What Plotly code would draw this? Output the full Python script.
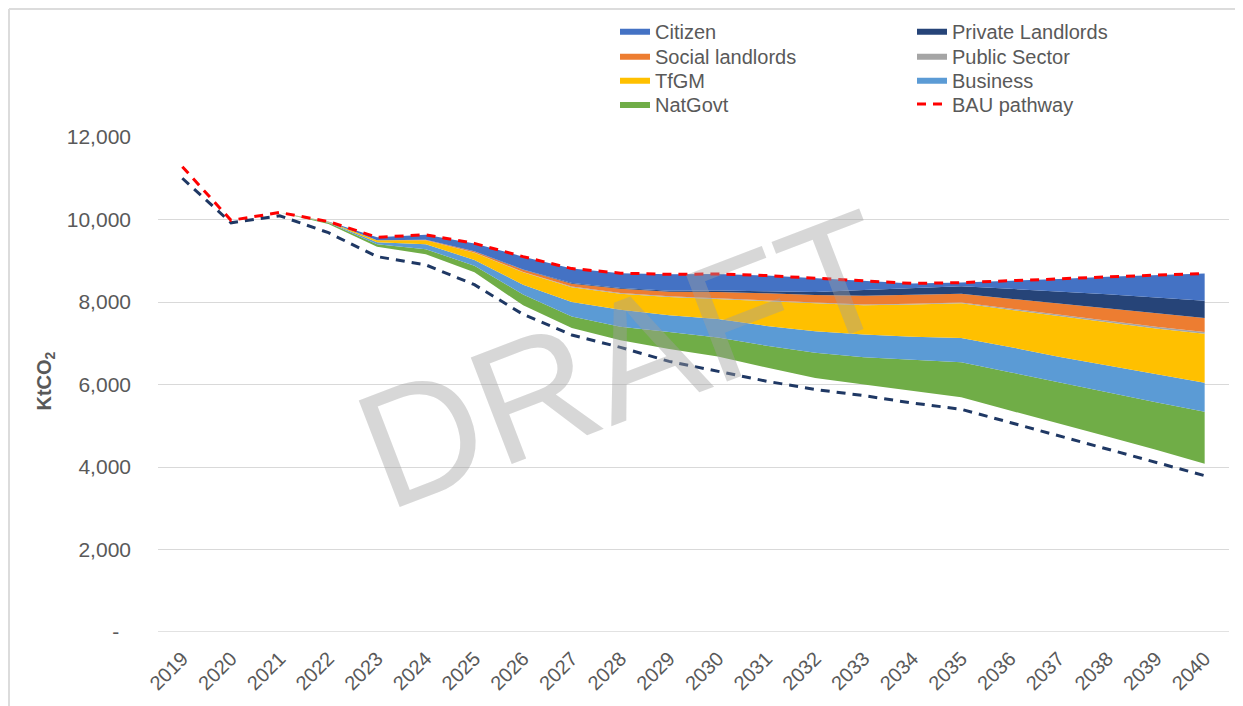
import plotly.graph_objects as go

# ---------------- data (KtCO2) ----------------
years = list(range(2019, 2041))
bau = [11280, 9980, 10170, 9950, 9570, 9630, 9420, 9100, 8810, 8700, 8670,
       8680, 8640, 8580, 8510, 8450, 8470, 8510, 8560, 8610, 8650, 8690]
target = [11000, 9920, 10090, 9680, 9100, 8900, 8420, 7700, 7200, 6900, 6560,
          6320, 6080, 5880, 5730, 5550, 5400, 5080, 4760, 4440, 4120, 3790]
remaining = [11280, 9980, 10170, 9890, 9340, 9160, 8720, 7920, 7370, 7070, 6860,
             6680, 6410, 6160, 6000, 5850, 5690, 5370, 5060, 4740, 4420, 4080]
natgovt = [0, 0, 0, 30, 60, 120, 160, 260, 280, 330, 410,
           460, 530, 610, 660, 750, 850, 930, 990, 1070, 1150, 1260]
business = [0, 0, 0, 15, 50, 120, 140, 240, 350, 410, 410,
            450, 480, 520, 550, 560, 590, 610, 620, 650, 680, 700]
tfgm = [0, 0, 0, 10, 45, 98, 175, 300, 360, 390, 440,
        480, 590, 670, 710, 780, 840, 900, 990, 1040, 1110, 1190]
public = [0, 0, 0, 0, 0, 2, 5, 10, 15, 20, 20,
          20, 20, 20, 20, 20, 20, 30, 30, 40, 40, 40]
social = [0, 0, 0, 0, 5, 8, 25, 50, 70, 100, 110,
          150, 180, 190, 210, 220, 210, 240, 270, 300, 320, 340]
private = [0, 0, 0, 0, 0, 2, 5, 10, 15, 20, 20,
           40, 50, 70, 140, 150, 180, 240, 300, 350, 390, 420]
citizen = [0, 0, 0, 5, 70, 120, 190, 310, 350, 360, 400,
           400, 380, 340, 220, 120, 90, 190, 300, 420, 540, 660]

y_ticks = [0, 2000, 4000, 6000, 8000, 10000, 12000]
y_ticktext = ["-\u00a0\u00a0", "2,000", "4,000", "6,000", "8,000", "10,000", "12,000"]

FONT = "Liberation Sans, Arial, sans-serif"
GREY_TXT = "#595959"

fig = go.Figure()

# invisible base of the stack
fig.add_trace(go.Scatter(x=years, y=remaining, stackgroup="s", mode="lines",
                         line=dict(width=0), fillcolor="rgba(0,0,0,0)",
                         showlegend=False, hoverinfo="skip"))

areas = [
    ("NatGovt", natgovt, "#70AD47", "legend4"),
    ("Business", business, "#5B9BD5", "legend7"),
    ("TfGM", tfgm, "#FFC000", "legend3"),
    ("Public Sector", public, "#A5A5A5", "legend6"),
    ("Social landlords", social, "#ED7D31", "legend2"),
    ("Private Landlords", private, "#264478", "legend5"),
    ("Citizen", citizen, "#4472C4", "legend"),
]
for name, vals, col, lg in areas:
    fig.add_trace(go.Scatter(x=years, y=vals, name=name, stackgroup="s", mode="lines",
                             line=dict(width=0, color=col), fillcolor=col, legend=lg))

fig.add_trace(go.Scatter(x=years, y=target, mode="lines", showlegend=False,
                         line=dict(color="#1F3864", width=3, dash="9px,7px")))
fig.add_trace(go.Scatter(x=years, y=bau, mode="lines", name="BAU pathway", legend="legend8",
                         line=dict(color="#FF0000", width=3, dash="9px,7px")))

# the page body adds an 8px offset, so the figure is sized to fill the rest of the window
OFF = 8
W, H = 1243 - OFF, 706 - OFF
L, T = 158 - OFF, 137 - OFF
PW, PH = 1071, 495
R, B = W - L - PW, H - T - PH


def px_x(win_x):  # window px -> paper x
    return (win_x - OFF - L) / PW


def px_y(win_y):  # window px -> paper y
    return (T + PH - (win_y - OFF)) / PH


def legend_at(left_px, center_px):
    return dict(x=(left_px - OFF) / W, y=1 - (center_px - OFF - 19.5) / H,
                xref="container", yref="container",
                xanchor="left", yanchor="top", bgcolor="rgba(0,0,0,0)", borderwidth=0,
                font=dict(family=FONT, size=20, color=GREY_TXT))


rows = [30.7, 55.7, 79.7, 104]
fig.update_layout(
    width=W, height=H,
    margin=dict(l=L, r=R, t=T, b=B, autoexpand=False),
    paper_bgcolor="white", plot_bgcolor="white",
    font=dict(family=FONT, color=GREY_TXT),
    legend=legend_at(615, rows[0]),
    legend2=legend_at(615, rows[1]),
    legend3=legend_at(615, rows[2]),
    legend4=legend_at(615, rows[3]),
    legend5=legend_at(912, rows[0]),
    legend6=legend_at(912, rows[1]),
    legend7=legend_at(912, rows[2]),
    legend8=legend_at(912, rows[3]),
    xaxis=dict(range=[2018.5, 2040.5], tickmode="array", tickvals=years,
               ticktext=[str(y) for y in years], tickangle=-45, showgrid=False,
               zeroline=False, showline=False, ticks="", ticklabelstandoff=10,
               tickfont=dict(family=FONT, size=20, color=GREY_TXT), automargin=False),
    yaxis=dict(range=[0, 12000], tickmode="array", tickvals=y_ticks, ticktext=y_ticktext,
               showgrid=True, gridcolor="#D9D9D9", gridwidth=1.3, zeroline=False,
               showline=False, ticks="", ticklabelstandoff=26,
               tickfont=dict(family=FONT, size=21, color=GREY_TXT), automargin=False),
)

# zero gridline
fig.add_hline(y=0, line=dict(color="#D9D9D9", width=1.3))

# y-axis title
fig.add_annotation(text="<b>KtCO<sub>2</sub></b>", xref="paper", yref="paper",
                   x=px_x(30), y=px_y(381), showarrow=False, textangle=-90,
                   font=dict(family=FONT, size=20, color=GREY_TXT))

# outer chart border (top and left edges visible)
bx, by = px_x(9), px_y(9)
fig.add_shape(type="line", xref="paper", yref="paper", x0=bx, x1=1.05, y0=by, y1=by,
              line=dict(color="#DCDCDC", width=2))
fig.add_shape(type="line", xref="paper", yref="paper", x0=bx, x1=bx, y0=by, y1=-0.2,
              line=dict(color="#DCDCDC", width=2))

# DRAFT watermark
fig.add_annotation(text="DRAFT", xref="paper", yref="paper",
                   x=px_x(624), y=px_y(359), showarrow=False, textangle=-21,
                   font=dict(family=FONT, size=166, color="rgba(160,160,160,0.42)"))

fig.write_html("out.html")
